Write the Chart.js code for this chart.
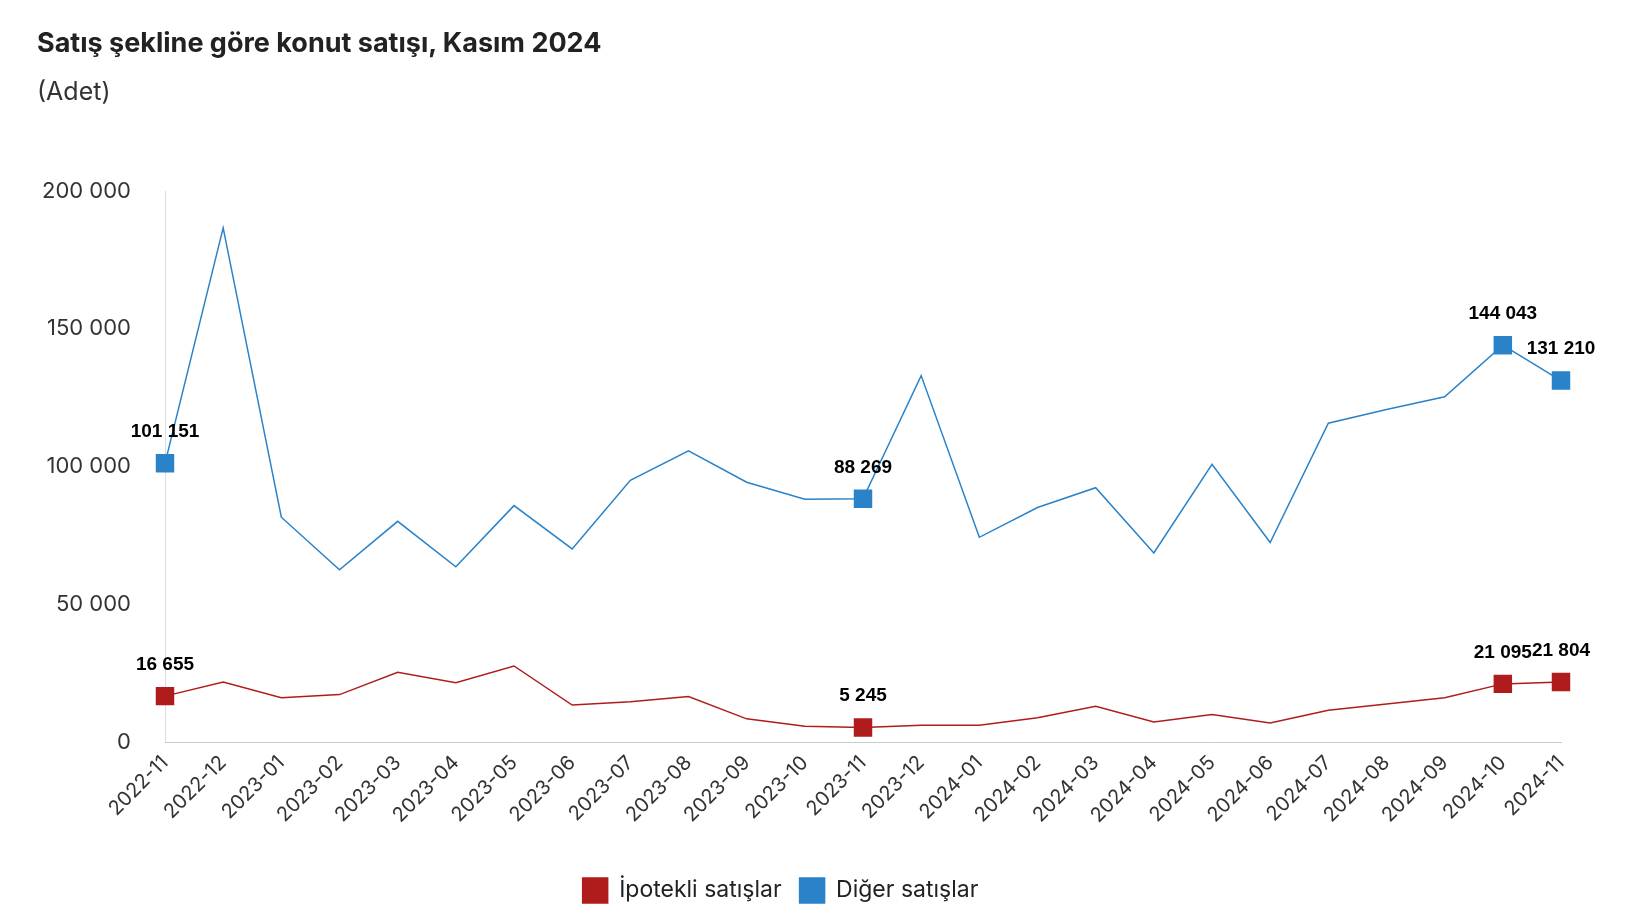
<!DOCTYPE html>
<html><head><meta charset="utf-8">
<script src="https://cdn.jsdelivr.net/npm/chart.js@4"></script>
<style>
body{margin:0;background:#fff;font-family:Inter,"Noto Sans",sans-serif;}
#t{position:absolute;left:37px;top:26px;font-size:27px;font-weight:700;color:#222;}
#s{position:absolute;left:37px;top:76px;font-size:25px;color:#333;}
#w{position:absolute;left:0;top:0;width:1630px;height:924px;}
</style></head><body>
<div id="w"><canvas id="c"></canvas></div>
<div id="t">Satış şekline göre konut satışı, Kasım 2024</div>
<div id="s">(Adet)</div>
<script>
const categories=["2022-11","2022-12","2023-01","2023-02","2023-03","2023-04","2023-05","2023-06","2023-07","2023-08","2023-09","2023-10","2023-11","2023-12","2024-01","2024-02","2024-03","2024-04","2024-05","2024-06","2024-07","2024-08","2024-09","2024-10","2024-11"];
const ipotekli=[16655,21800,16100,17200,25300,21500,27600,13400,14600,16500,8400,5700,5245,6100,6100,8800,13000,7300,10000,6900,11500,13800,16100,21095,21804];
const diger=[101151,186600,81600,62500,80100,63600,85800,70100,95000,105700,94300,88100,88269,133000,74300,85100,92300,68600,100800,72400,115700,120700,125300,144043,131210];
const highlighted=[0,12,23,24];
const yTicks=[0,50000,100000,150000,200000];
const fmt=v=>String(v).replace(/\B(?=(\d{3})+(?!\d))/g,' ');
const radii=categories.map((_,i)=>highlighted.includes(i)?12:0);
const labelPlugin={id:'lbl',afterDatasetsDraw(ch){const c=ch.ctx;c.save();c.font='bold 19px Arial, "Liberation Sans", sans-serif';c.fillStyle='#000';c.textAlign='center';c.textBaseline='bottom';
ch.data.datasets.forEach((ds,di)=>{const m=ch.getDatasetMeta(di);highlighted.forEach(i=>{const p=m.data[i];c.fillText(fmt(ds.data[i]),p.x,p.y-22);});});c.restore();}};
new Chart(document.getElementById('c'),{type:'line',
data:{labels:categories,datasets:[
{label:'İpotekli satışlar',data:ipotekli,borderColor:'#b01c1c',backgroundColor:'#b01c1c',borderWidth:1.5,pointStyle:'rect',pointRadius:radii,pointHoverRadius:radii,tension:0},
{label:'Diğer satışlar',data:diger,borderColor:'#2a83c9',backgroundColor:'#2a83c9',borderWidth:1.5,pointStyle:'rect',pointRadius:radii,pointHoverRadius:radii,tension:0}]},
options:{responsive:true,maintainAspectRatio:false,animation:false,
layout:{padding:{left:0,right:69,top:191,bottom:11}},
plugins:{legend:{position:'bottom',labels:{font:{size:23,family:'Inter'},color:'#222',boxWidth:25,boxHeight:25,padding:18}},tooltip:{enabled:false}},
scales:{
y:{min:0,max:200000,afterBuildTicks(s){s.ticks=yTicks.map(v=>({value:v}));},afterFit(s){s.width=165;},
grid:{display:false},border:{display:true,color:'#ddd'},ticks:{font:{size:22,family:'Inter'},color:'#333',padding:26,callback:v=>fmt(v)}},
x:{offset:false,grid:{display:false,drawTicks:true,tickLength:6},border:{color:'#ccc'},afterFit(s){s.height=118;},
ticks:{font:{size:20,family:'Inter'},color:'#333',maxRotation:45,minRotation:45,autoSkip:false}}}},
plugins:[labelPlugin]});
</script></body></html>
